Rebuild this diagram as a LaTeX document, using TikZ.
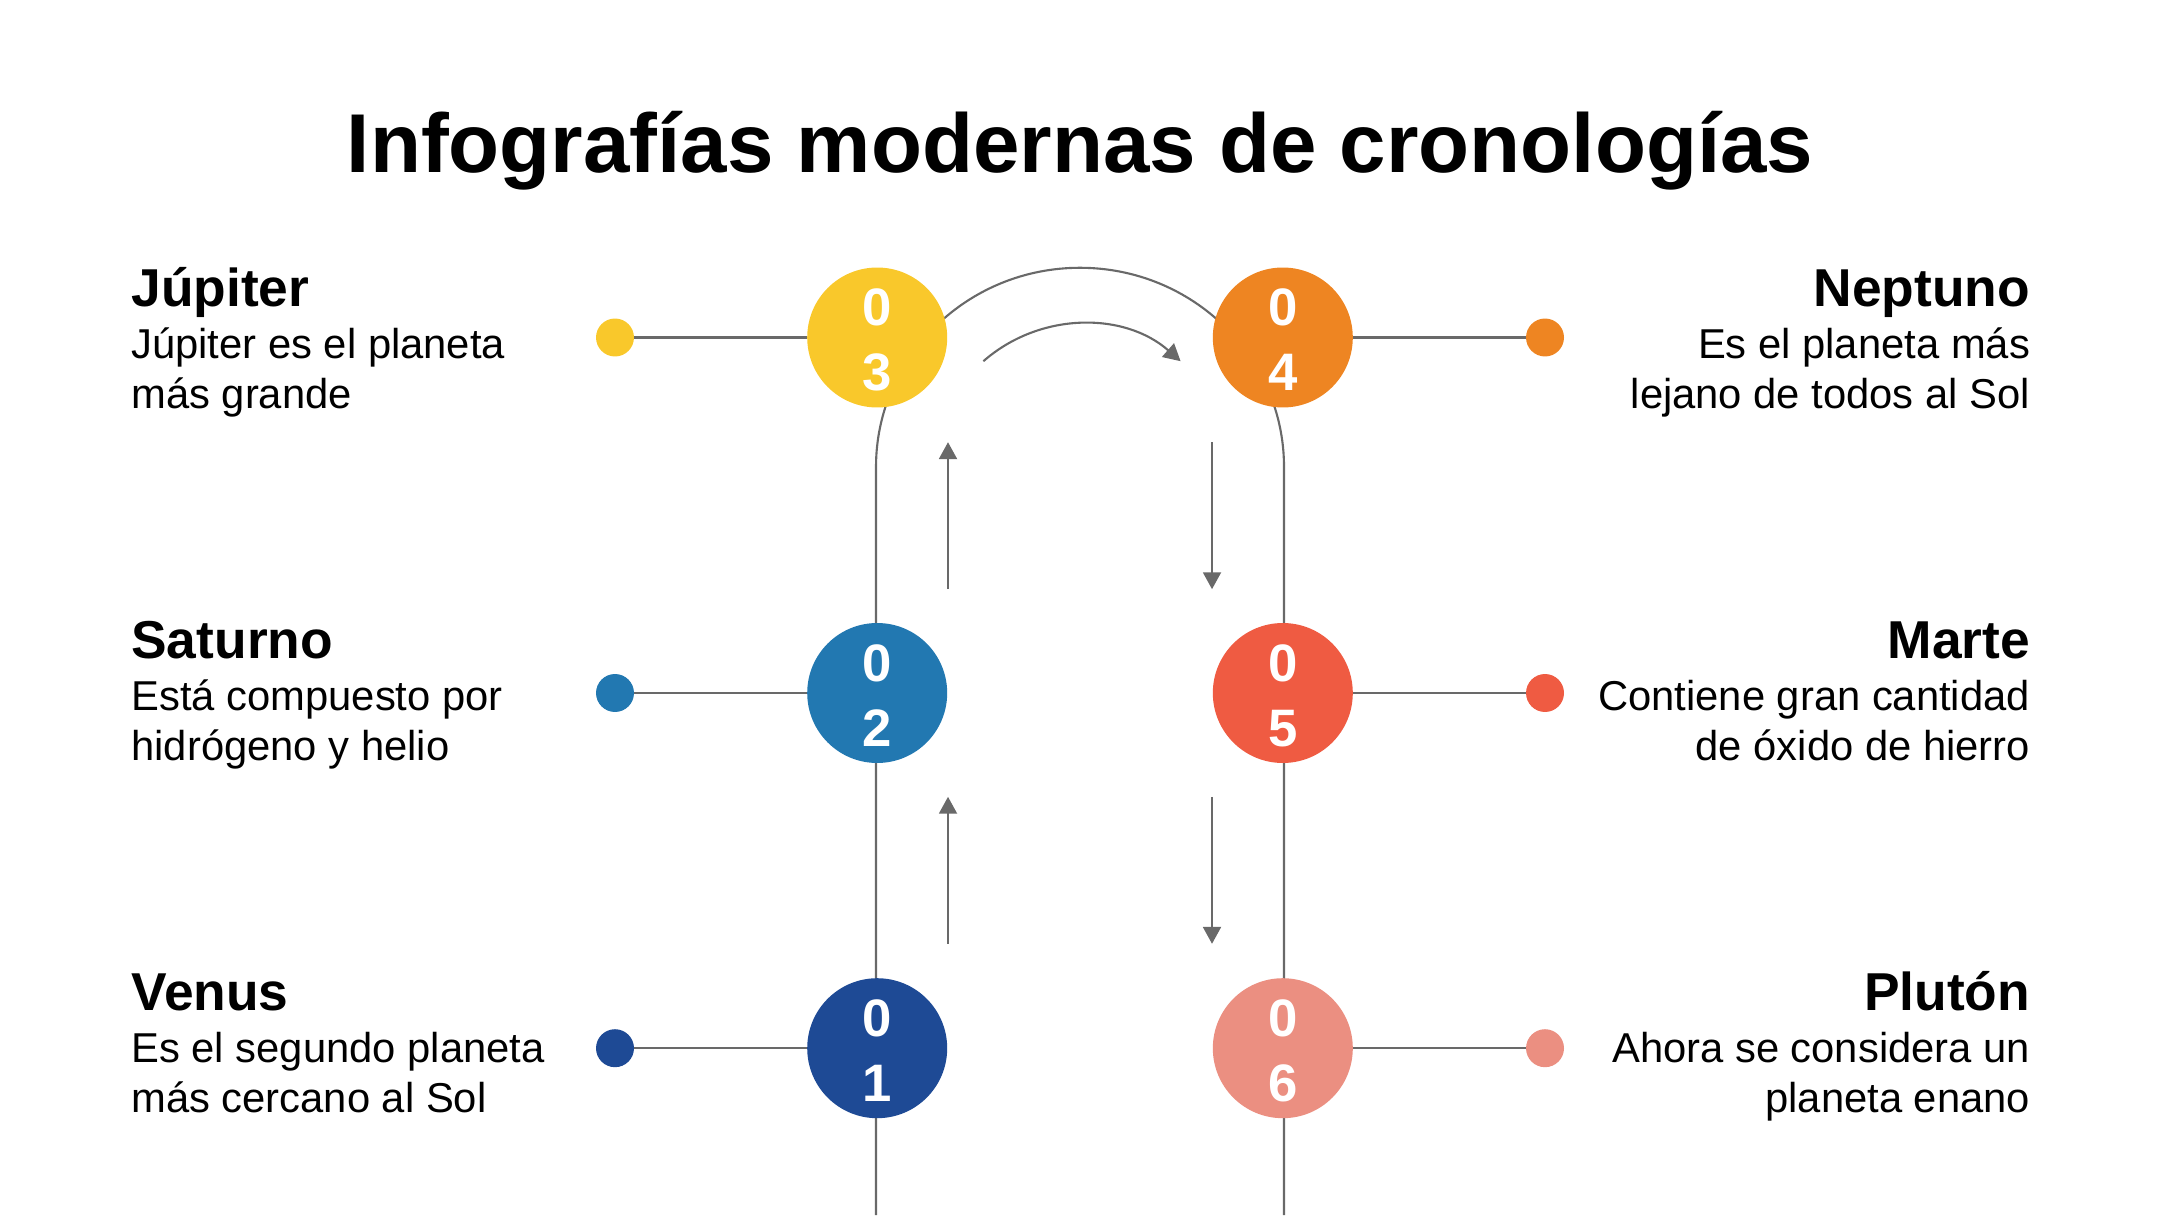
\documentclass[tikz,border=0pt]{standalone}
\usepackage{fontspec}
\setmainfont{Liberation Sans}
\usetikzlibrary{arrows.meta,positioning,calc}
\definecolor{trackGray}{RGB}{105,105,105}
\definecolor{venusBlue}{RGB}{30,74,149}
\definecolor{saturnBlue}{RGB}{34,120,177}
\definecolor{jupiterYellow}{RGB}{249,200,43}
\definecolor{neptuneOrange}{RGB}{238,133,34}
\definecolor{marsRed}{RGB}{239,91,66}
\definecolor{plutoPink}{RGB}{235,143,129}
\tikzset{
  trackln/.style={line width=1pt, trackGray},
  flowarr/.style={-{Triangle[length=8pt,width=8.5pt]}, line width=1pt, trackGray},
  bubble/.style={circle, minimum size=2.333cm, inner sep=0pt},
  pin/.style={circle, minimum size=0.633cm, inner sep=0pt},
  digit/.style={anchor=base, inner sep=0pt, text=white, font=\fontsize{25}{30}\selectfont\bfseries},
  planet/.style={inner sep=0pt, font=\fontsize{25.3}{30}\selectfont\bfseries},
  blurb/.style={inner sep=0pt, font=\fontsize{19.8}{23.6}\selectfont},
}

\begin{document}
\begin{tikzpicture}
    \useasboundingbox (0,0) rectangle (36,20.25);
    \node[anchor=base, inner sep=0pt, font=\fontsize{39.6}{47}\selectfont\bfseries] (ttl)
      at (18,17.37) {Infografías modernas de cronologías};
    % track behind the circles
    \draw[trackln] (14.6,0) -- (14.6,12.467) arc (180:0:3.4cm and 3.32cm) -- (21.4,0);
    % circles, numbers and pins
    \foreach \n/\x/\px/\y/\col in {1/14.62/10.25/2.78/venusBlue, 2/14.62/10.25/8.70/saturnBlue,
        3/14.62/10.25/14.625/jupiterYellow, 4/21.38/25.75/14.625/neptuneOrange,
        5/21.38/25.75/8.70/marsRed, 6/21.38/25.75/2.78/plutoPink}{
      \node[bubble, fill=\col] (c\n) at (\x,\y) {};
      \node[digit] at ($(c\n)+(0,0.197)$) {0};
      \node[digit] at ($(c\n)+(0,-0.887)$) {\n};
      \node[pin, fill=\col] (p\n) at (\px,\y) {};
      \draw[trackln] (p\n) -- (c\n);
    }
    % labels left
    \foreach \y/\name/\txt in {14.625/Júpiter/{Júpiter es el planeta\\más grande},
        8.76/Saturno/{Está compuesto por\\hidrógeno y helio},
        2.895/Venus/{Es el segundo planeta\\más cercano al Sol}}{
      \node[planet, anchor=base west] at (2.183,\y+0.513) {\name};
      \node[blurb, anchor=base west, align=left] at (2.183,\y-1.18) {\txt};
    }
    % labels right
    \foreach \y/\name/\txt in {14.625/Neptuno/{Es el planeta más\\lejano de todos al Sol},
        8.76/Marte/{Contiene gran cantidad\\de óxido de hierro},
        2.895/Plutón/{Ahora se considera un\\planeta enano}}{
      \node[planet, anchor=base east] at (33.84,\y+0.513) {\name};
      \node[blurb, anchor=base east, align=right] at (33.84,\y-1.18) {\txt};
    }
    % direction arrows
    \coordinate (upA) at (15.8,10.43);   \coordinate (upA') at (15.8,12.88);
    \coordinate (upB) at (15.8,4.52);    \coordinate (upB') at (15.8,6.97);
    \coordinate (dnA) at (20.2,12.88);   \coordinate (dnA') at (20.2,10.43);
    \coordinate (dnB) at (20.2,6.97);    \coordinate (dnB') at (20.2,4.52);
    \draw[flowarr] (upA) -- (upA');
    \draw[flowarr] (upB) -- (upB');
    \draw[flowarr] (dnA) -- (dnA');
    \draw[flowarr] (dnB) -- (dnB');
    \coordinate (overA) at (16.39,14.23);
    \draw[flowarr] (overA) arc (131.3:48.7:2.49cm);
\end{tikzpicture}
\end{document}
